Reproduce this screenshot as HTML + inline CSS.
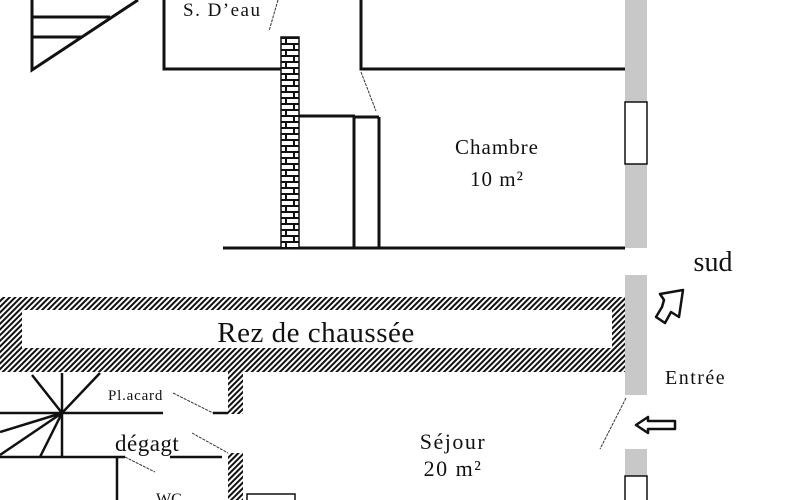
<!DOCTYPE html>
<html><head><meta charset="utf-8"><style>
html,body{margin:0;padding:0;background:#fff;width:800px;height:500px;overflow:hidden}
text{font-family:"Liberation Serif",serif;fill:#111}
</style></head><body>
<svg width="800" height="500" viewBox="0 0 800 500" xmlns="http://www.w3.org/2000/svg">
<defs>
<pattern id="h" width="4" height="4" patternUnits="userSpaceOnUse" patternTransform="rotate(45)">
<rect width="4" height="4" fill="#fff"/><rect width="2" height="4" fill="#111"/>
</pattern>
<pattern id="b" width="18" height="12" patternUnits="userSpaceOnUse" x="281" y="37">
<rect width="18" height="12" fill="#fff"/>
<path d="M0 1H18M0 7H18M5 1V7M13 7V12" stroke="#111" stroke-width="2" fill="none"/>
</pattern>
</defs>
<g stroke="#111" stroke-width="3" fill="none">
<path d="M32 0V70L138 0M32 17H110M32 37H82"/>
<path d="M164 0V69H282M361 0V69H625"/>
<path d="M299 116H355M354 116V248M379 117V248M355 117H379M223 248H625"/>
</g>
<rect x="281" y="37" width="18" height="211" fill="url(#b)" stroke="#111" stroke-width="1.5"/>
<g stroke="#333" stroke-width="1" stroke-dasharray="3,1">
<path d="M278 0L269 31M361 72L376 111M626 398L600 449M173 393L213 413M192 433L228 453M125 457L155 472"/>
</g>
<rect x="625" y="0" width="22" height="248" fill="#c8c8c8"/>
<rect x="625" y="275" width="22" height="120" fill="#c8c8c8"/>
<rect x="625" y="449" width="22" height="51" fill="#c8c8c8"/>
<rect x="625" y="102" width="22" height="62" fill="#fff" stroke="#111" stroke-width="1.5"/>
<rect x="625" y="476" width="22" height="30" fill="#fff" stroke="#111" stroke-width="1.5"/>
<rect x="0" y="297" width="625" height="75" fill="url(#h)"/>
<rect x="22" y="310" width="590" height="38" fill="#fff"/>
<rect x="228" y="372" width="15" height="42" fill="url(#h)"/>
<rect x="228" y="453" width="15" height="47" fill="url(#h)"/>
<rect x="247" y="494" width="48" height="10" fill="#fff" stroke="#111" stroke-width="1.5"/>
<g stroke="#111" stroke-width="2.5" fill="none">
<path d="M62 373V457M0 413H163M0 457H125M170 457H222M213 413H228M117 457V500"/>
<path d="M62 413L32 375M62 413L100 373M62 413L0 432M62 413L0 455M62 413L40 457"/>
</g>
<path d="M662 307L656 317L665 323L671 312L679 317L683 290L660 294L664 300Z" fill="#fff" stroke="#111" stroke-width="2.5" stroke-linejoin="round"/>
<path d="M636 425L648 417V421H675V429H648V433Z" fill="#fff" stroke="#111" stroke-width="2.5" stroke-linejoin="round"/>
<text x="183" y="16" font-size="19" letter-spacing="1.5">S. D’eau</text>
<text x="497" y="154" font-size="21" letter-spacing="1" text-anchor="middle">Chambre</text>
<text x="497" y="186" font-size="21" letter-spacing="1" text-anchor="middle">10 m²</text>
<text x="713" y="271" font-size="28" text-anchor="middle">sud</text>
<text x="316" y="342" font-size="29" letter-spacing="0.5" text-anchor="middle">Rez de chaussée</text>
<text x="665" y="384" font-size="20" letter-spacing="1.5">Entrée</text>
<text x="108" y="400" font-size="15" letter-spacing="0.8">Pl.acard</text>
<text x="115" y="451" font-size="23" letter-spacing="0.5">dégagt</text>
<text x="453" y="449" font-size="22" letter-spacing="1.5" text-anchor="middle">Séjour</text>
<text x="453" y="476" font-size="22" letter-spacing="1.5" text-anchor="middle">20 m²</text>
<text x="156" y="504" font-size="16">WC</text>
</svg>
</body></html>
